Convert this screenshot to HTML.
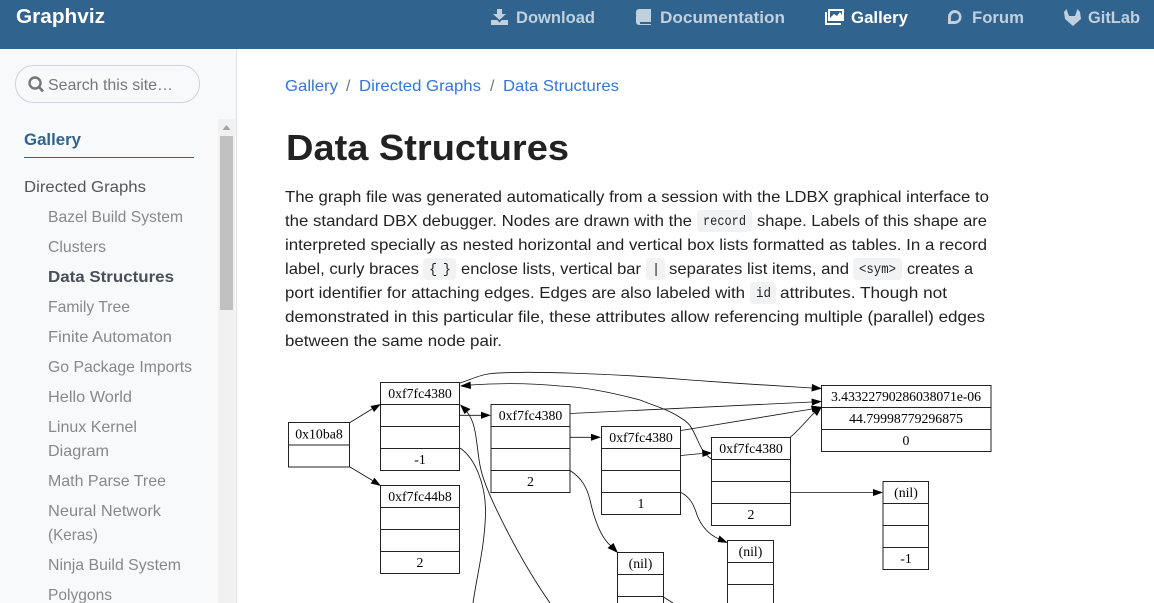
<!DOCTYPE html>
<html><head><meta charset="utf-8"><title>Data Structures</title>
<style>
html,body{margin:0;padding:0;width:1154px;height:603px;overflow:hidden;background:#fff}
svg{display:block}
.s{font-family:"Liberation Sans",sans-serif}
.b{font-family:"Liberation Sans",sans-serif;font-size:16px;fill:#222}
.n{font-family:"Liberation Sans",sans-serif;font-size:16.5px;font-weight:bold;fill:#c1d0dd}
.i{font-family:"Liberation Sans",sans-serif;font-size:16px;fill:#888}
.l{font-family:"Liberation Sans",sans-serif;font-size:16px;fill:#3176d9}
.c{font-family:"Liberation Mono",monospace;font-size:13.5px;fill:#222}
.g{font-family:"Liberation Serif",serif;font-size:13.8px;fill:#000;text-anchor:middle}
.r{fill:none;stroke:#222;stroke-width:1}
.e{fill:none;stroke:#111;stroke-width:.85}
</style></head><body>
<svg width="1154" height="603" viewBox="0 0 1154 603" xmlns="http://www.w3.org/2000/svg">
<rect width="1154" height="603" fill="#fff"/>
<!-- navbar -->
<rect width="1154" height="49" fill="#30638e"/>
<text class="s" x="16" y="23" font-size="20" font-weight="bold" fill="#fff" textLength="89" lengthAdjust="spacingAndGlyphs">Graphviz</text>
<g fill="#c1d0dd">
<path d="M497 9h5v5h4l-6.500 6-6.500-6h4zM491 20h6l2.500 2.500 2.500-2.500h6v5h-17z"/>
<path d="M639 9h12v13h-11v2h11v1h-12a3 3 0 0 1-3-3v-10a3 3 0 0 1 3-3z"/>
<path fill-rule="evenodd" d="M955 10a7 7 0 1 1-1 14h-6v-7a7 7 0 0 1 7-7zm0 3a4 4 0 0 0-4 4v4h4a4 4 0 0 0 0-8z"/>
<path d="M1064 12l2.500-3 2.500 7h6l2.500-7 2.500 3 1 7-8 7-8-7z"/>
</g>
<path fill="#fff" fill-rule="evenodd" d="M828 9h16v12h-16zM830 11v7l4-4 3 2 3-4 2 3v-4z"/>
<path fill="#fff" d="M825 12h2v11h14v2h-16z"/>
<text class="n" x="516" y="23" textLength="79" lengthAdjust="spacingAndGlyphs">Download</text>
<text class="n" x="660" y="23" textLength="125" lengthAdjust="spacingAndGlyphs">Documentation</text>
<text class="n" x="851" y="23" textLength="57" lengthAdjust="spacingAndGlyphs" style="fill:#fff">Gallery</text>
<text class="n" x="972" y="23" textLength="52" lengthAdjust="spacingAndGlyphs">Forum</text>
<text class="n" x="1088" y="23" textLength="52" lengthAdjust="spacingAndGlyphs">GitLab</text>

<!-- sidebar -->
<rect x="0" y="49" width="236" height="554" fill="#f8f9fa"/>
<rect x="236" y="49" width="1" height="554" fill="#dee2e6"/>
<rect x="15.500" y="65.500" width="184" height="37" rx="18" fill="#f8f9fa" stroke="#ced4da"/>
<circle cx="35" cy="83" r="5.500" fill="none" stroke="#777" stroke-width="2.400"/>
<path d="M39 87l4 4.500" stroke="#777" stroke-width="2.800" fill="none"/>
<text class="i" x="48" y="90" textLength="125" lengthAdjust="spacingAndGlyphs" style="fill:#777">Search this site…</text>
<rect x="218" y="119" width="17" height="484" fill="#f1f1f1"/>
<rect x="220" y="136" width="13" height="174" fill="#c1c1c1"/>
<path d="M226.500 125l4 5h-8z" fill="#a3a3a3"/>
<text class="s" x="24" y="145" font-size="16.500" font-weight="bold" fill="#30638e" textLength="57" lengthAdjust="spacingAndGlyphs">Gallery</text>
<rect x="24" y="157" width="170" height="1" fill="#30638e"/>
<text class="i" x="24" y="192" textLength="122" lengthAdjust="spacingAndGlyphs" style="fill:#555">Directed Graphs</text>
<text class="i" x="48" y="222" textLength="135" lengthAdjust="spacingAndGlyphs">Bazel Build System</text>
<text class="i" x="48" y="252" textLength="58" lengthAdjust="spacingAndGlyphs">Clusters</text>
<text class="i" x="48" y="282" textLength="126" lengthAdjust="spacingAndGlyphs" style="font-weight:bold;fill:#495057">Data Structures</text>
<text class="i" x="48" y="312" textLength="82" lengthAdjust="spacingAndGlyphs">Family Tree</text>
<text class="i" x="48" y="342" textLength="124" lengthAdjust="spacingAndGlyphs">Finite Automaton</text>
<text class="i" x="48" y="372" textLength="144" lengthAdjust="spacingAndGlyphs">Go Package Imports</text>
<text class="i" x="48" y="402" textLength="84" lengthAdjust="spacingAndGlyphs">Hello World</text>
<text class="i" x="48" y="432" textLength="89" lengthAdjust="spacingAndGlyphs">Linux Kernel</text>
<text class="i" x="48" y="456" textLength="61" lengthAdjust="spacingAndGlyphs">Diagram</text>
<text class="i" x="48" y="486" textLength="118" lengthAdjust="spacingAndGlyphs">Math Parse Tree</text>
<text class="i" x="48" y="516" textLength="113" lengthAdjust="spacingAndGlyphs">Neural Network</text>
<text class="i" x="48" y="540" textLength="50" lengthAdjust="spacingAndGlyphs">(Keras)</text>
<text class="i" x="48" y="570" textLength="133" lengthAdjust="spacingAndGlyphs">Ninja Build System</text>
<text class="i" x="48" y="600" textLength="64" lengthAdjust="spacingAndGlyphs">Polygons</text>

<!-- breadcrumb -->
<text class="l" x="285" y="91" textLength="53" lengthAdjust="spacingAndGlyphs">Gallery</text>
<text class="b" x="346" y="91" style="fill:#6c757d">/</text>
<text class="l" x="359" y="91" textLength="122" lengthAdjust="spacingAndGlyphs">Directed Graphs</text>
<text class="b" x="490" y="91" style="fill:#6c757d">/</text>
<text class="l" x="503" y="91" textLength="116" lengthAdjust="spacingAndGlyphs">Data Structures</text>

<!-- heading -->
<text class="s" x="286" y="160" font-size="36" font-weight="bold" fill="#222" textLength="283" lengthAdjust="spacingAndGlyphs">Data Structures</text>

<!-- paragraph -->
<g fill="#f1f2f3">
<rect x="697" y="210" width="55" height="22" rx="4"/>
<rect x="423" y="258" width="33" height="22" rx="4"/>
<rect x="646" y="258" width="19" height="22" rx="4"/>
<rect x="853" y="258" width="49" height="22" rx="4"/>
<rect x="750" y="282" width="26" height="22" rx="4"/>
</g>
<text class="b" x="285" y="202" textLength="704" lengthAdjust="spacingAndGlyphs">The graph file was generated automatically from a session with the LDBX graphical interface to</text>
<text class="b" x="285" y="226" textLength="407" lengthAdjust="spacingAndGlyphs">the standard DBX debugger. Nodes are drawn with the</text>
<text class="c" x="703" y="225" textLength="43" lengthAdjust="spacingAndGlyphs">record</text>
<text class="b" x="757" y="226" textLength="230" lengthAdjust="spacingAndGlyphs">shape. Labels of this shape are</text>
<text class="b" x="285" y="250" textLength="702" lengthAdjust="spacingAndGlyphs">interpreted specially as nested horizontal and vertical box lists formatted as tables. In a record</text>
<text class="b" x="285" y="274" textLength="134" lengthAdjust="spacingAndGlyphs">label, curly braces</text>
<text class="c" x="429" y="273" textLength="22" xml:space="preserve">{ }</text>
<text class="b" x="461" y="274" textLength="180" lengthAdjust="spacingAndGlyphs">enclose lists, vertical bar</text>
<text class="c" x="652" y="273">|</text>
<text class="b" x="669" y="274" textLength="180" lengthAdjust="spacingAndGlyphs">separates list items, and</text>
<text class="c" x="859" y="273" textLength="37" lengthAdjust="spacingAndGlyphs">&lt;sym&gt;</text>
<text class="b" x="907" y="274" textLength="66" lengthAdjust="spacingAndGlyphs">creates a</text>
<text class="b" x="285" y="298" textLength="460" lengthAdjust="spacingAndGlyphs">port identifier for attaching edges. Edges are also labeled with</text>
<text class="c" x="756" y="297" textLength="15" lengthAdjust="spacingAndGlyphs">id</text>
<text class="b" x="780" y="298" textLength="167" lengthAdjust="spacingAndGlyphs">attributes. Though not</text>
<text class="b" x="285" y="322" textLength="700" lengthAdjust="spacingAndGlyphs">demonstrated in this particular file, these attributes allow referencing multiple (parallel) edges</text>
<text class="b" x="285" y="346" textLength="217" lengthAdjust="spacingAndGlyphs">between the same node pair.</text>

<!-- graph nodes -->
<path class="r" d="M288.500 422.500h61v44.500h-61zM288.500 445h61"/>
<path class="r" d="M380.500 382.500h79v88h-79zM380.500 404.500h79M380.500 426.500h79M380.500 448.500h79"/>
<path class="r" d="M380.500 485.500h79v88h-79zM380.500 507.500h79M380.500 529.500h79M380.500 551.500h79"/>
<path class="r" d="M491 404.500h79v88h-79zM491 426.500h79M491 448.500h79M491 470.500h79"/>
<path class="r" d="M601.500 426.500h79v88h-79zM601.500 448.500h79M601.500 470.500h79M601.500 492.500h79"/>
<path class="r" d="M711.500 437.500h79v88h-79zM711.500 459.500h79M711.500 481.500h79M711.500 503.500h79"/>
<path class="r" d="M821.500 385.500h169.500v66h-169.500zM821.500 407.500h169.500M821.500 429.500h169.500"/>
<path class="r" d="M883 481.500h45.500v88h-45.500zM883 503.500h45.500M883 525.500h45.500M883 547.500h45.500"/>
<path class="r" d="M727.500 540.500h46v70h-46zM727.500 562.500h46M727.500 584.500h46"/>
<path class="r" d="M617.500 552.500h46v60h-46zM617.500 574.500h46M617.500 596.500h46"/>
<text class="g" x="319" y="438.500">0x10ba8</text>
<text class="g" x="420" y="398">0xf7fc4380</text>
<text class="g" x="420" y="464">-1</text>
<text class="g" x="420" y="501">0xf7fc44b8</text>
<text class="g" x="420" y="567">2</text>
<text class="g" x="530.500" y="420">0xf7fc4380</text>
<text class="g" x="530.500" y="486">2</text>
<text class="g" x="641" y="442">0xf7fc4380</text>
<text class="g" x="641" y="508">1</text>
<text class="g" x="751" y="453">0xf7fc4380</text>
<text class="g" x="751" y="519">2</text>
<text class="g" x="906" y="401" textLength="150">3.43322790286038071e-06</text>
<text class="g" x="906" y="423">44.79998779296875</text>
<text class="g" x="906" y="445">0</text>
<text class="g" x="906" y="497">(nil)</text>
<text class="g" x="906" y="563">-1</text>
<text class="g" x="750.500" y="556">(nil)</text>
<text class="g" x="640.500" y="568">(nil)</text>

<!-- edges -->
<path class="e" d="M350 422.500L372 409"/>
<path class="e" d="M350 467L372.500 480.500"/>
<path class="e" d="M460 415.300H482"/>
<path class="e" d="M570 437.300H592"/>
<path class="e" d="M681 455.500L702 453.500"/>
<path class="e" d="M460 383C472 379 480 375 488 374C520 370 620 374 690 380C730 383 780 386 812 388"/>
<path class="e" d="M711.500 459C705 455 702 450 698 441C692 428 690 424 684 420C670 410 660 408 640 400C610 392 585 387 560 386C530 383 500 383 470 385"/>
<path class="e" d="M570 413.500L812 402"/>
<path class="e" d="M681 430.500L812 409"/>
<path class="e" d="M790 437.500C798 431 806 421 815 412"/>
<path class="e" d="M790 492.500H873"/>
<path class="e" d="M681 492.500C690 497 694 505 697 515C702 528 710 535 719 539"/>
<path class="e" d="M570 470.500C582 478 587 488 590 500C594 518 600 537 611 546"/>
<path class="e" d="M460 448C475 458 486 485 485.500 513C485 545 477 575 473 603"/>
<path class="e" d="M467 412C478 425 476 450 481 470C487 495 520 560 550 603"/>
<path class="e" d="M663.500 597L673 603"/>
<g fill="#000">
<path d="M381 404L370.500 406 374 412z"/>
<path d="M381 486L374.500 477.700 370.700 483.500z"/>
<path d="M491 415.300L481 411.800V418.800z"/>
<path d="M601 437.300L591 433.800V440.800z"/>
<path d="M712 453L702 449.500 702.500 457z"/>
<path d="M460 386L470.500 381.500 471 389z"/>
<path d="M460 404.500L470.500 409 464.500 414z"/>
<path d="M822 388.500L812 384 811.500 391.500z"/>
<path d="M822 401.500L811.500 398.500 812 405.500z"/>
<path d="M822 407L811 405.500 812.500 412.500z"/>
<path d="M822 406.500L812 410 817 416z"/>
<path d="M883 492.500L873 489V496z"/>
<path d="M728 543L719.500 535.500 717.500 542z"/>
<path d="M618 553L613.500 543 607.500 548z"/>
</g>
</svg>
</body></html>
